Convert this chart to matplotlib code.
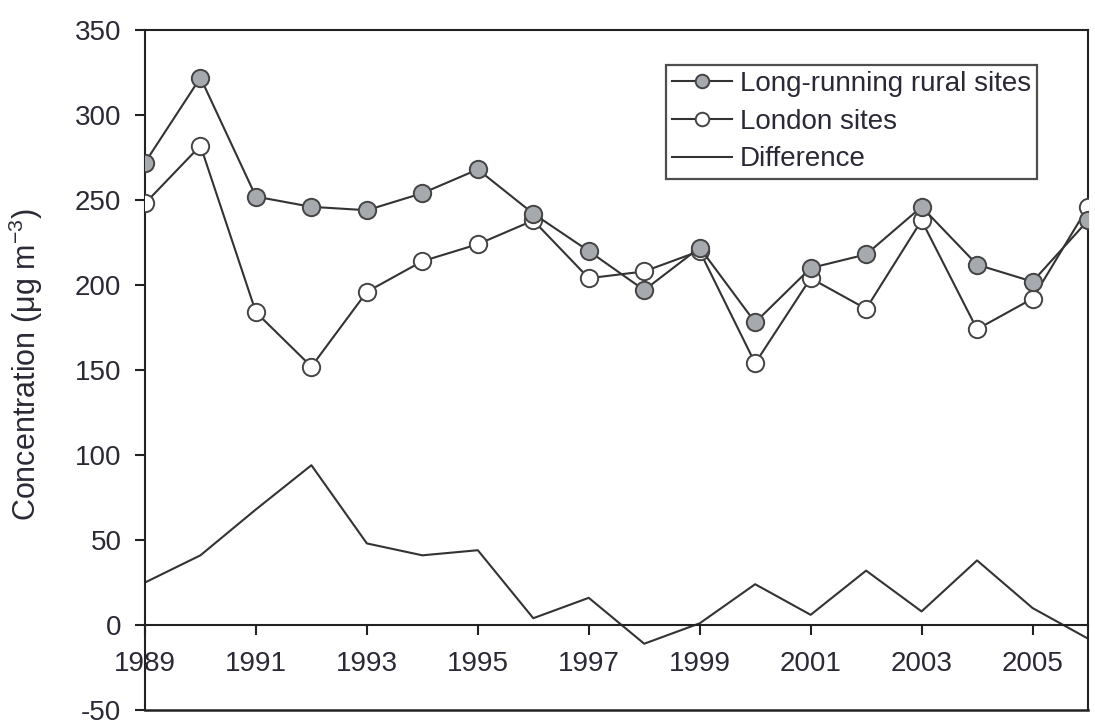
import matplotlib
matplotlib.use("Agg")
import matplotlib.pyplot as plt

plt.rcParams['font.family'] = ['Liberation Sans', 'DejaVu Sans']
plt.rcParams['mathtext.fontset'] = 'custom'
plt.rcParams['mathtext.rm'] = 'Liberation Sans'
plt.rcParams['mathtext.it'] = 'Liberation Sans:italic'
plt.rcParams['axes.unicode_minus'] = False

years = list(range(1989, 2007))
rural = [272, 322, 252, 246, 244, 254, 268, 242, 220, 197, 222, 178, 210, 218, 246, 212, 202, 238]
london = [248, 282, 184, 152, 196, 214, 224, 238, 204, 208, 220, 154, 204, 186, 238, 174, 192, 246]
difference = [25, 41, 68, 94, 48, 41, 44, 4, 16, -11, 1, 24, 6, 32, 8, 38, 10, -8]
xtick_years = [1989, 1991, 1993, 1995, 1997, 1999, 2001, 2003, 2005]
yticks = [-50, 0, 50, 100, 150, 200, 250, 300, 350]

text_color = '#2a2a36'
line_color = '#333333'
fs = 20

fig = plt.figure(figsize=(10.95, 7.22), dpi=100)
ax = fig.add_axes([0.1324, 0.0166, 0.8612, 0.9418])

ax.plot(years, difference, color=line_color, lw=1.5, label='Difference', zorder=2)
ax.plot(years, london, color=line_color, lw=1.5, marker='o', markersize=12.5,
        markerfacecolor='white', markeredgecolor='#444444', markeredgewidth=1.4,
        label='London sites', zorder=3)
ax.plot(years, rural, color=line_color, lw=1.5, marker='o', markersize=12.5,
        markerfacecolor='#a6a9ae', markeredgecolor='#444444', markeredgewidth=1.4,
        label='Long-running rural sites', zorder=4)

ax.set_xlim(1989, 2006)
ax.set_ylim(-50, 350)
ax.set_yticks(yticks)
ax.set_xticks(xtick_years)
ax.set_xticklabels([str(y) for y in xtick_years])

for s in ax.spines.values():
    s.set_linewidth(1.5)
    s.set_color('#222222')
ax.spines['bottom'].set_position(('data', 0))
ax.axhline(-50, color='#222222', lw=1.8, clip_on=False, zorder=5)

ax.tick_params(axis='both', direction='out', length=7, width=1.5, color='#222222',
               labelsize=fs, labelcolor=text_color)
ax.tick_params(axis='x', pad=12)
ax.tick_params(axis='y', pad=10)

ax.set_ylabel('Concentration (μg m$^{-3}$)', fontsize=22, color=text_color)
ax.yaxis.set_label_coords(-0.106, 0.508)

handles, labels = ax.get_legend_handles_labels()
order = [2, 1, 0]
leg = ax.legend([handles[i] for i in order], [labels[i] for i in order],
                loc='upper left', bbox_to_anchor=(0.5525, 0.9485), fontsize=fs,
                frameon=True, fancybox=False, edgecolor='#222222',
                handlelength=2.14, handletextpad=0.3, labelspacing=0.42,
                borderpad=0.22, borderaxespad=0.0, markerscale=0.78)
leg.get_frame().set_linewidth(1.6)
for t in leg.get_texts():
    t.set_color(text_color)

fig.savefig('out.png', dpi=100)
